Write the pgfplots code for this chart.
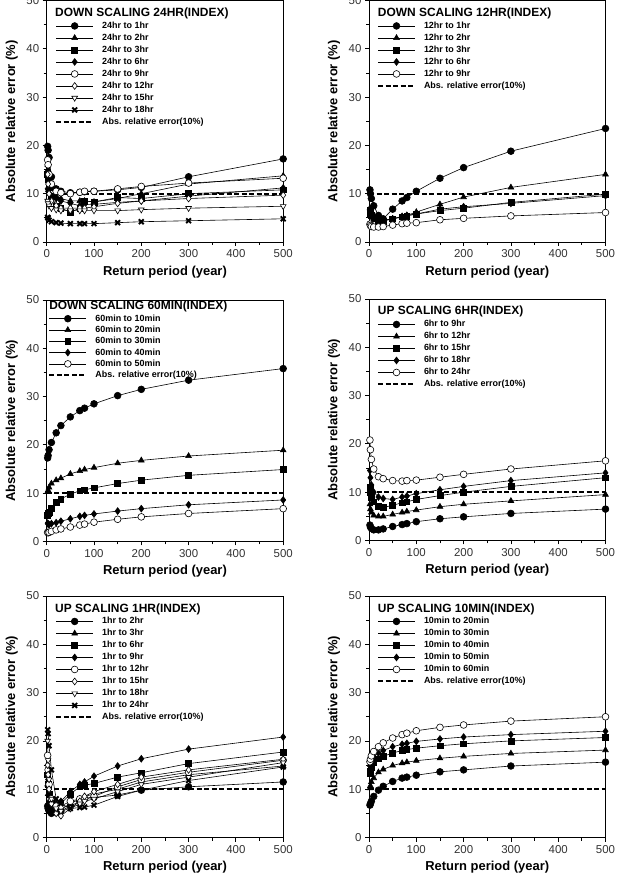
\documentclass[border=0pt]{standalone}
\usepackage{fontspec}
\setmainfont{Liberation Sans}
\usepackage{pgfplots}
\usepackage{pgfplotstable}
\pgfplotsset{compat=1.18}

\pgfplotstableread{
T a b c d e f g h
2 19.8 16 14 11 17 14 8.5 5.1
3 19 15 13 10.5 16 12 8 5
5 17.5 13 11.5 10 14 10 7.5 4.5
10 13.5 11 9.5 9.5 12 8.5 7 4.2
20 11 9.5 7.5 9 10.5 7.5 6.7 4
30 10.5 9 7 8.5 10.2 7 6.5 3.9
50 10.2 8.5 6.2 8 10 7 6.5 3.8
70 10.3 8.5 7 7.5 10.3 7 6.5 3.8
80 10.4 8.5 8.5 7.8 10.5 7 6.5 3.8
100 10.5 8.3 8.3 7.8 10.5 7.3 6.5 3.8
150 10.8 9 9.2 8.2 11 8 6.5 4
200 11.3 10 9 8.5 11.5 8.5 6.7 4.2
300 13.5 12 10 9.5 12.2 9 7 4.4
500 17.2 13.7 10.8 11.2 13.2 9.7 7.4 4.8
}\dataA

\pgfplotstableread{
T a b c d e
2 10.8 7 6.5 6 3.7
3 10 6.5 6 5.8 3.4
5 9 6 5.5 5.3 3.2
10 7.5 5 4.8 4.8 3.1
20 5.5 4.5 4.2 4.5 3.1
30 4.8 4.5 4.3 4.5 3.2
50 6.8 4.8 4.8 4.8 3.5
70 8.5 5.2 5.2 5.3 3.8
80 9.2 5.5 5.4 5.5 3.9
100 10.5 6.2 5.8 5.8 4
150 13.2 7.8 6.5 6.8 4.6
200 15.4 9.3 7 7.3 4.9
300 18.8 11.3 8.2 8 5.4
500 23.5 14 9.9 9.6 6.1
}\dataB

\pgfplotstableread{
T a b c d e
2 17.3 10.3 5.5 3.8 1.9
3 17.8 10.6 5.8 3.6 1.8
5 19 11.2 6 3.5 1.9
10 20.5 12 6.8 3.7 2.1
20 22.5 12.7 8.1 3.9 2.4
30 24 13.1 8.8 4.2 2.6
50 25.8 14 9.8 4.7 3
70 27.1 14.6 10.5 5.2 3.4
80 27.6 14.9 10.7 5.4 3.6
100 28.5 15.3 11.1 5.7 4
150 30.2 16.2 12 6.3 4.6
200 31.5 16.8 12.7 6.8 5.1
300 33.4 17.7 13.7 7.6 5.8
500 35.8 18.9 14.9 8.6 6.8
}\dataC

\pgfplotstableread{
T a b c d e
2 3.2 7.5 11 14.5 20.8
3 2.8 6.5 10 13 18.8
5 2.5 5.8 9 11.5 16.8
10 2.2 5.2 8 10 14.8
20 2.2 5 7 9 13.2
30 2.4 5 6.8 8.7 12.8
50 2.9 5.4 7.3 8.5 12.4
70 3.3 5.8 7.8 9 12.3
80 3.5 6 8 9.2 12.4
100 3.9 6.3 8.5 9.7 12.5
150 4.5 7 9.3 10.5 13.1
200 4.9 7.5 10 11.2 13.7
300 5.6 8.2 11.2 12.4 14.8
500 6.5 9.5 13 14 16.5
}\dataD

\pgfplotstableread{
T a b c d e f g h
2 6.5 11 13 15 17 15 20 22.3
3 6 9 11 12 14 13 16 21.5
5 5.5 7.5 9 9 11 10 12 19
10 5 6 7 7 8 7 8 14
20 5.2 5.5 6.5 7 6.5 5 6 8
30 5.5 5.8 7 7.5 6.5 4.5 5.5 7
50 6.5 7 9 9.5 7.5 6 6 6
70 7.5 8 10.5 11 8 7.5 7 6.2
80 8 8.5 10.8 11.5 8 8.5 7.5 6.3
100 8.3 9 11.2 12.7 8.5 9.5 8 6.7
150 8.8 10 12.5 14.8 10.5 11 9.5 8.5
200 9.8 11.5 13.4 16.3 12 12.5 11 9.8
300 10.5 13 15.3 18.3 13.5 14 12.5 11.8
500 11.5 14.8 17.7 20.8 16 16.2 15.5 14.6
}\dataE

\pgfplotstableread{
T a b c d e
2 6.7 10.2 13.2 14.8 15.7
3 7 10.7 13.8 15.3 16.2
5 7.5 11.5 14.5 15.9 16.9
10 8.5 12.3 15.5 16.8 17.8
20 9.8 13.5 16.3 17.5 18.8
30 10.6 14.1 16.8 18 19.6
50 11.6 14.9 17.5 18.8 20.6
70 12.3 15.4 18 19.3 21.3
80 12.5 15.6 18.2 19.5 21.6
100 12.9 15.9 18.5 19.9 22.1
150 13.6 16.4 19 20.4 22.8
200 14 16.8 19.4 20.8 23.3
300 14.8 17.4 20 21.3 24.1
500 15.6 18.1 20.7 22 25
}\dataF

\tikzset{ttl/.style={anchor=base west, inner sep=0pt, font=\bfseries\fontsize{12}{12}\selectfont}}

\pgfplotsset{
 panel/.style={
  scale only axis, width=236.5bp, height=241.5bp, anchor=south west,
  xmin=0, xmax=500, ymin=0, ymax=50,
  xtick={0,100,...,500}, ytick={0,10,...,50},
  minor xtick={50,150,...,450}, minor ytick={5,15,...,45},
  tick align=outside, xtick pos=left, ytick pos=left,
  major tick length=4bp, minor tick length=3bp,
  axis line style={line width=0.9bp},
  every tick/.append style={line width=0.8bp, black},
  /pgf/number format/assume math mode=true,
  tick label style={font=\fontsize{11.5}{11.5}\selectfont, text=black!80},
  xlabel={Return period (year)}, ylabel={Absolute relative error (\%)},
  label style={font=\bfseries\fontsize{13}{13}\selectfont},
  xlabel style={at={(axis description cs:0.5,-0.137)}, anchor=base},
  ylabel style={at={(axis description cs:-0.148,0.5)}, anchor=center},
  clip=false,
  legend cell align=left,
  legend style={draw=none, fill=none, inner sep=0pt, anchor=north west,
    row sep=4bp, column sep=8bp,
    font=\bfseries\fontsize{9}{9}\selectfont,
    nodes={inner sep=0pt, text height=6.5bp, text depth=1.5bp}},
  legend image code/.code={\draw[mark repeat=2,mark phase=2,##1] plot coordinates {(0bp,0bp) (18.5bp,0bp) (37bp,0bp)};},
 },
 ln/.style={black, line width=0.6bp},
 s1/.style={ln, mark=*, mark size=3.4bp, mark options={solid, fill=black}},
 s2/.style={ln, mark=triangle*, mark size=3.3bp, mark options={solid, fill=black}},
 s3/.style={ln, mark=square*, mark size=2.9bp, mark options={solid, fill=black}},
 s4/.style={ln, mark=diamond*, mark size=3.4bp, mark options={solid, fill=black}},
 s5/.style={ln, mark=*, mark size=3.4bp, mark options={solid, fill=white}},
 s6/.style={ln, mark=diamond*, mark size=3.4bp, mark options={solid, fill=white}},
 s7/.style={ln, mark=triangle*, mark size=3.3bp, mark options={solid, fill=white, rotate=180}},
 s8/.style={ln, mark=x, mark size=3.4bp, mark options={solid, line width=1.9bp}},
 refl/.style={black, line width=2bp, dash pattern=on 5bp off 2.5bp},
}

\begin{document}
\begin{tikzpicture}

% Panel 1
\begin{axis}[panel, at={(46.7bp,633bp)}, legend style={at={(axis description cs:0.035,0.912)}}]
\node[ttl] at (axis description cs:0.035,0.935) {DOWN SCALING 24HR(INDEX)};
\addplot[s1] table[x=T,y=a] {\dataA}; \addlegendentry{24hr to 1hr}
\addplot[s2] table[x=T,y=b] {\dataA}; \addlegendentry{24hr to 2hr}
\addplot[s3] table[x=T,y=c] {\dataA}; \addlegendentry{24hr to 3hr}
\addplot[s4] table[x=T,y=d] {\dataA}; \addlegendentry{24hr to 6hr}
\addplot[s5] table[x=T,y=e] {\dataA}; \addlegendentry{24hr to 9hr}
\addplot[s6] table[x=T,y=f] {\dataA}; \addlegendentry{24hr to 12hr}
\addplot[s7] table[x=T,y=g] {\dataA}; \addlegendentry{24hr to 15hr}
\addplot[s8] table[x=T,y=h] {\dataA}; \addlegendentry{24hr to 18hr}
\addplot[refl] coordinates {(0,10) (500,10)}; \addlegendentry{Abs. relative error(10\%)}
\end{axis}

% Panel 2
\begin{axis}[panel, at={(369bp,633bp)}, legend style={at={(axis description cs:0.033,0.912)}}]
\node[ttl] at (axis description cs:0.037,0.935) {DOWN SCALING 12HR(INDEX)};
\addplot[s1] table[x=T,y=a] {\dataB}; \addlegendentry{12hr to 1hr}
\addplot[s2] table[x=T,y=b] {\dataB}; \addlegendentry{12hr to 2hr}
\addplot[s3] table[x=T,y=c] {\dataB}; \addlegendentry{12hr to 3hr}
\addplot[s4] table[x=T,y=d] {\dataB}; \addlegendentry{12hr to 6hr}
\addplot[s5] table[x=T,y=e] {\dataB}; \addlegendentry{12hr to 9hr}
\addplot[refl] coordinates {(0,10) (500,10)}; \addlegendentry{Abs. relative error(10\%)}
\end{axis}

% Panel 3
\begin{axis}[panel, at={(46.7bp,333.5bp)}, legend style={at={(axis description cs:0.006,0.94)}, row sep=3.3bp}]
\node[ttl] at (axis description cs:0.01,0.961) {DOWN SCALING 60MIN(INDEX)};
\addplot[s1] table[x=T,y=a] {\dataC}; \addlegendentry{60min to 10min}
\addplot[s2] table[x=T,y=b] {\dataC}; \addlegendentry{60min to 20min}
\addplot[s3] table[x=T,y=c] {\dataC}; \addlegendentry{60min to 30min}
\addplot[s4] table[x=T,y=d] {\dataC}; \addlegendentry{60min to 40min}
\addplot[s5] table[x=T,y=e] {\dataC}; \addlegendentry{60min to 50min}
\addplot[refl] coordinates {(0,10) (500,10)}; \addlegendentry{Abs. relative error(10\%)}
\end{axis}

% Panel 4
\begin{axis}[panel, at={(369bp,334.5bp)}, legend style={at={(axis description cs:0.033,0.912)}}]
\node[ttl] at (axis description cs:0.037,0.937) {UP SCALING 6HR(INDEX)};
\addplot[s1] table[x=T,y=a] {\dataD}; \addlegendentry{6hr to 9hr}
\addplot[s2] table[x=T,y=b] {\dataD}; \addlegendentry{6hr to 12hr}
\addplot[s3] table[x=T,y=c] {\dataD}; \addlegendentry{6hr to 15hr}
\addplot[s4] table[x=T,y=d] {\dataD}; \addlegendentry{6hr to 18hr}
\addplot[s5] table[x=T,y=e] {\dataD}; \addlegendentry{6hr to 24hr}
\addplot[refl] coordinates {(0,10) (500,10)}; \addlegendentry{Abs. relative error(10\%)}
\end{axis}

% Panel 5
\begin{axis}[panel, at={(46.7bp,37.5bp)}, legend style={at={(axis description cs:0.035,0.912)}}]
\node[ttl] at (axis description cs:0.035,0.932) {UP SCALING 1HR(INDEX)};
\addplot[s1] table[x=T,y=a] {\dataE}; \addlegendentry{1hr to 2hr}
\addplot[s2] table[x=T,y=b] {\dataE}; \addlegendentry{1hr to 3hr}
\addplot[s3] table[x=T,y=c] {\dataE}; \addlegendentry{1hr to 6hr}
\addplot[s4] table[x=T,y=d] {\dataE}; \addlegendentry{1hr to 9hr}
\addplot[s5] table[x=T,y=e] {\dataE}; \addlegendentry{1hr to 12hr}
\addplot[s6] table[x=T,y=f] {\dataE}; \addlegendentry{1hr to 15hr}
\addplot[s7] table[x=T,y=g] {\dataE}; \addlegendentry{1hr to 18hr}
\addplot[s8] table[x=T,y=h] {\dataE}; \addlegendentry{1hr to 24hr}
\addplot[refl] coordinates {(0,10) (500,10)}; \addlegendentry{Abs. relative error(10\%)}
\end{axis}

% Panel 6
\begin{axis}[panel, at={(369bp,37.5bp)}, legend style={at={(axis description cs:0.033,0.912)}}]
\node[ttl] at (axis description cs:0.037,0.932) {UP SCALING 10MIN(INDEX)};
\addplot[s1] table[x=T,y=a] {\dataF}; \addlegendentry{10min to 20min}
\addplot[s2] table[x=T,y=b] {\dataF}; \addlegendentry{10min to 30min}
\addplot[s3] table[x=T,y=c] {\dataF}; \addlegendentry{10min to 40min}
\addplot[s4] table[x=T,y=d] {\dataF}; \addlegendentry{10min to 50min}
\addplot[s5] table[x=T,y=e] {\dataF}; \addlegendentry{10min to 60min}
\addplot[refl] coordinates {(0,10) (500,10)}; \addlegendentry{Abs. relative error(10\%)}
\end{axis}

\pgfresetboundingbox
\path[use as bounding box] (0bp,0bp) rectangle (620bp,875bp);
\end{tikzpicture}
\end{document}
